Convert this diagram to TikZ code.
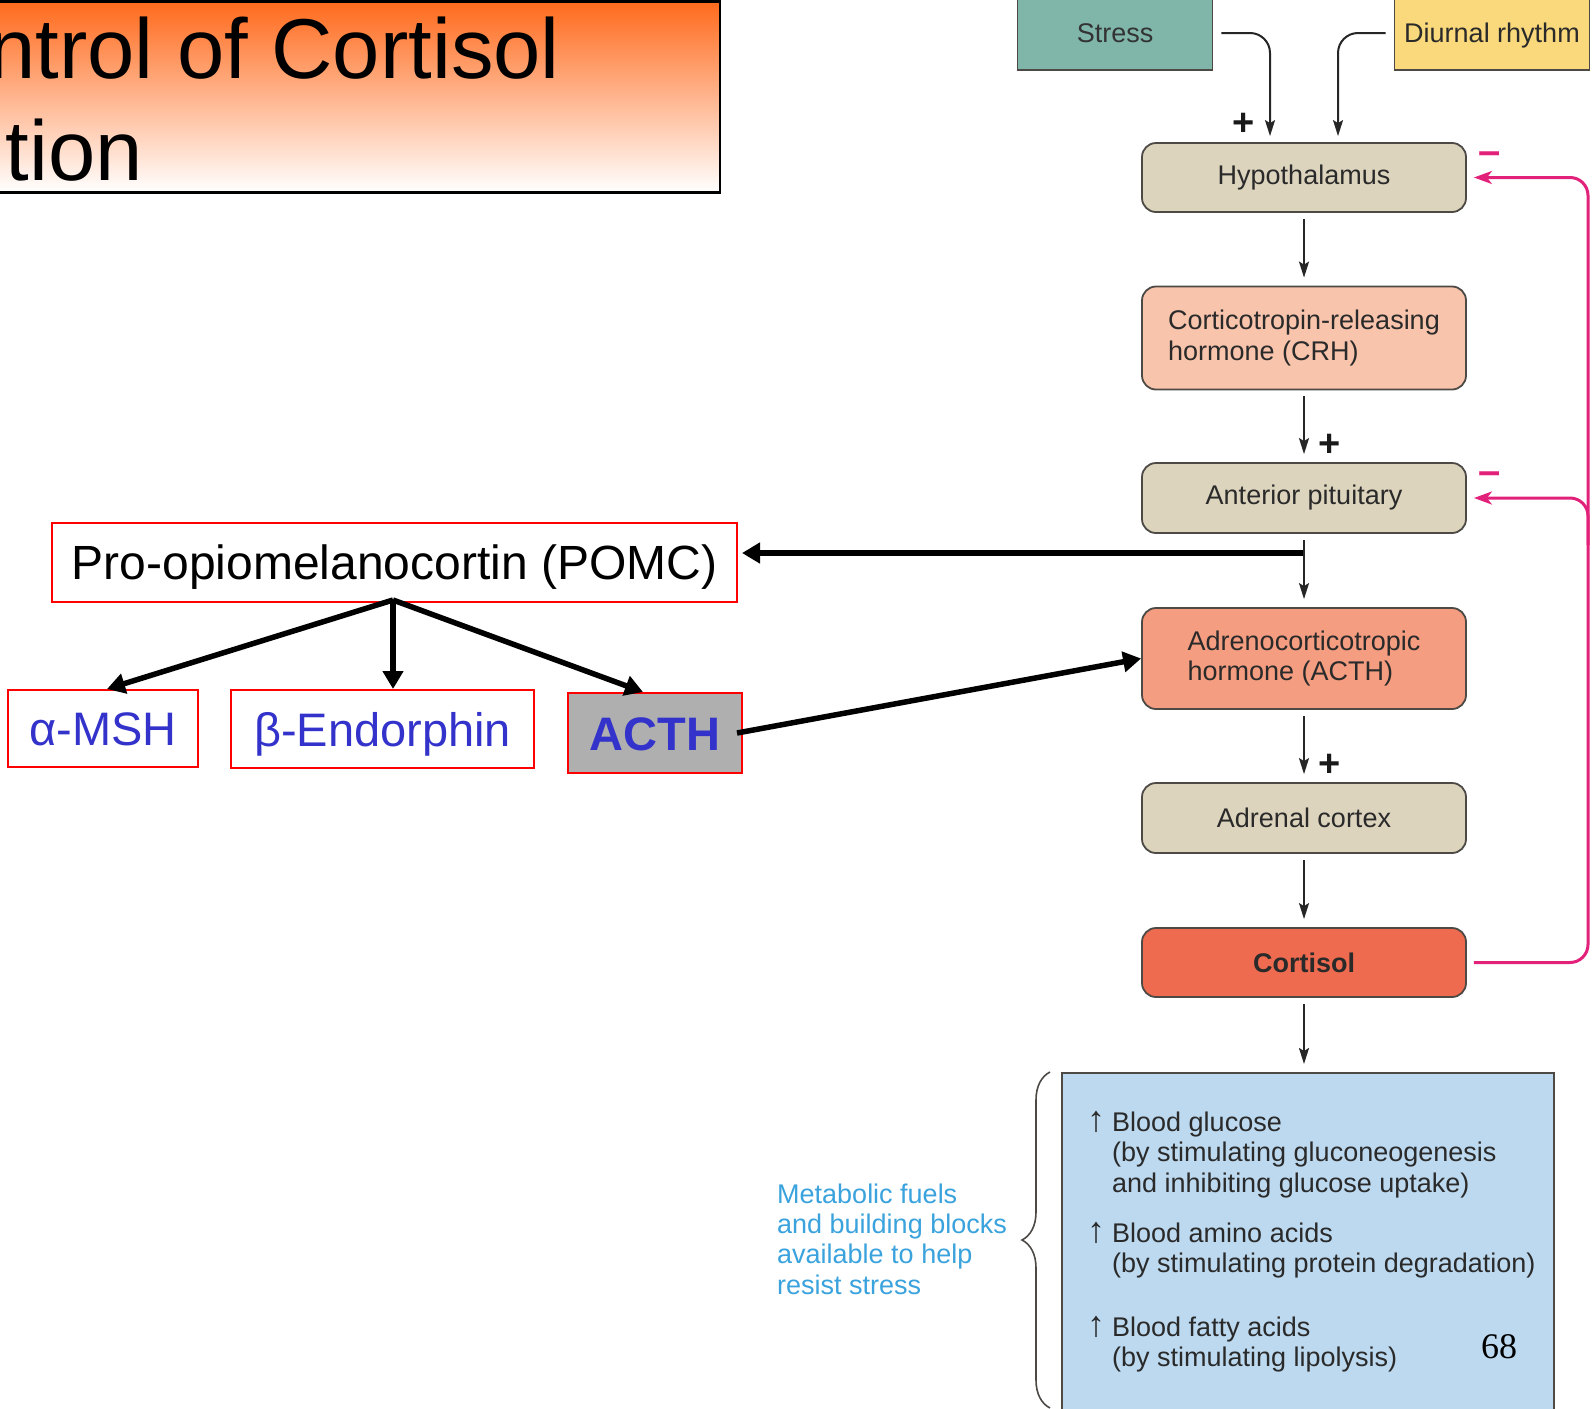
\documentclass[tikz,border=0pt]{standalone}
\usepackage{fontspec}
\setmainfont{Liberation Sans}
\newfontfamily\timesfont{Liberation Serif}
\usetikzlibrary{arrows.meta,decorations.pathreplacing}
\definecolor{stressc}{HTML}{7FB6A9}
\definecolor{diurnc}{HTML}{FAD97C}
\definecolor{tanc}{HTML}{DDD4BD}
\definecolor{crhc}{HTML}{F8C4AC}
\definecolor{acthc}{HTML}{F49D80}
\definecolor{cortc}{HTML}{EE6B4F}
\definecolor{bluebox}{HTML}{BDD9EF}
\definecolor{metac}{HTML}{3AA2DC}
\definecolor{pinkc}{HTML}{E2217A}
\definecolor{edgec}{HTML}{4D4A45}
\definecolor{txtc}{HTML}{2A2A2A}
\definecolor{redc}{HTML}{FF0000}
\definecolor{bluet}{HTML}{3333CC}
\definecolor{grayf}{HTML}{AFAFAF}
\definecolor{orangec}{HTML}{FF6A1C}
\tikzset{
  flow/.style={draw=edgec, line width=1.8pt, rounded corners=14pt, minimum width=324pt,
    inner sep=0pt, text=txtc, font=\fontsize{27}{30.5}\selectfont, align=left},
  src/.style={draw=edgec, line width=1.8pt, minimum width=195pt, minimum height=74pt,
    inner sep=0pt, text=txtc, font=\fontsize{27}{30.5}\selectfont, text height=19pt, text depth=0pt},
  flowarrow/.style={draw=black!85, line width=2pt, -{Stealth[length=16pt,width=10pt,inset=3pt]},
    shorten <=6pt, shorten >=8pt},
  bentarrow/.style={draw=black!85, line width=2pt, rounded corners=20pt,
    -{Stealth[length=16pt,width=10pt,inset=3pt]}},
  plussign/.style={font=\fontsize{38}{38}\selectfont\bfseries, text=black!90, inner sep=0pt},
  minussign/.style={font=\fontsize{40}{40}\selectfont\bfseries, text=pinkc, inner sep=0pt},
  pinkline/.style={draw=pinkc, line width=3pt, rounded corners=18pt,
    -{Stealth[length=18pt,width=13pt,inset=5pt]}},
  redbox/.style={draw=redc, line width=2pt, inner sep=0pt, font=\fontsize{47}{50}\selectfont,
    text height=34pt, text depth=0pt},
  fatarrow/.style={draw=black, line width=5.5pt, -{Triangle[length=18pt,width=20pt]}},
  effecttext/.style={anchor=base west, align=left, inner sep=0pt, text=txtc,
    font=\fontsize{27}{30.5}\selectfont},
  uparrow/.style={anchor=base, inner sep=0pt, text=txtc, font=\fontsize{36}{36}\selectfont},
}
\begin{document}
\begin{tikzpicture}[x=1pt,y=-1pt]
\useasboundingbox (0,0) rectangle (1595,1408);

% title
\node[draw=black, line width=2.5pt, top color=orangec, bottom color=white,
  minimum width=740pt, minimum height=191pt, anchor=north east, inner sep=0pt] (titlebox) at (721,0) {};
\node[anchor=base east, inner sep=0pt, font=\fontsize{85}{90}\selectfont] (title1) at (560,78) {ntrol of Cortisol};
\node[anchor=base east, inner sep=0pt, font=\fontsize{85}{90}\selectfont] (title2) at (143,180) {tion};

% inputs
\node[src, fill=stressc, text=black!80] (stress) at (1115,33) {Stress};
\node[src, fill=diurnc] (diurnal) at (1492,33) {Diurnal rhythm};

% main column
\node[flow, fill=tanc, minimum height=69pt] (hyp) at (1304,177.5) {Hypothalamus};
\node[flow, fill=crhc, minimum height=103pt] (crh) at (1304,338) {Corticotropin-releasing\\hormone (CRH)};
\node[flow, fill=tanc, minimum height=70pt] (ap) at (1304,498) {Anterior pituitary};
\node[flow, fill=acthc, minimum height=101pt] (acthm) at (1304,658.5) {Adrenocorticotropic\\hormone (ACTH)};
\node[flow, fill=tanc, minimum height=70pt] (adr) at (1304,818) {Adrenal cortex};
\node[flow, fill=cortc, minimum height=69pt, font=\fontsize{27}{30.5}\selectfont\bfseries] (cort) at (1304,962.5) {Cortisol};
\node[draw=edgec, line width=1.8pt, fill=bluebox, minimum width=492pt, minimum height=360pt,
  anchor=north west, inner sep=0pt] (effects) at (1061,1072) {};

% input arrows
\coordinate (stin) at ([xshift=-34pt,yshift=6pt]hyp.north);
\coordinate (diin) at ([xshift=34pt,yshift=6pt]hyp.north);
\draw[bentarrow] ([xshift=8pt]stress.east) -| (stin);
\draw[bentarrow] ([xshift=-8pt]diurnal.west) -| (diin);
\node[plussign] (p1) at (1244,124) {+};

% column arrows
\draw[flowarrow] (hyp.south) -- (crh.north);
\draw[flowarrow] (crh.south) -- (ap.north);
\node[plussign] (p2) at (1330,445) {+};
\draw[flowarrow] (ap.south) -- (acthm.north);
\draw[flowarrow] (acthm.south) -- (adr.north);
\node[plussign] (p3) at (1330,765) {+};
\draw[flowarrow] (adr.south) -- (cort.north);
\draw[flowarrow] (cort.south) -- (effects.north -| cort.south);

% feedback
\coordinate (hypin) at ([xshift=7pt]hyp.east);
\coordinate (apin) at ([xshift=7pt]ap.east);
\coordinate (fbx) at (1588,0);
\draw[pinkline] ([xshift=7pt]cort.east) -| (hypin -| fbx) -- (hypin);
\draw[pinkline] (1588,545) |- (apin);
\node[minussign] (m1) at (1490,158) {–};
\node[minussign] (m2) at (1490,478) {–};

% POMC part
\node[redbox, fill=white, minimum width=685pt, minimum height=79pt, font=\fontsize{48}{50}\selectfont] (pomc) at (394.5,562.5) {Pro-opiomelanocortin (POMC)};
\node[redbox, fill=white, text=bluet, minimum width=190pt, minimum height=77pt] (msh) at (103,728.5) {α-MSH};
\node[redbox, fill=white, text=bluet, minimum width=303pt, minimum height=78pt] (bend) at (382.5,729) {β-Endorphin};
\node[redbox, fill=grayf, text=bluet, minimum width=174pt, minimum height=80pt, font=\fontsize{47}{50}\selectfont\bfseries] (acthg) at (655,733) {ACTH};

\coordinate (junc) at (1303,553);
\coordinate (pomctip) at ([xshift=4pt]pomc.east);
\draw[fatarrow] (junc) -- (pomctip |- junc);
\coordinate (apex) at (393,600);
\draw[fatarrow] (apex) -- ([xshift=4pt]msh.north);
\draw[fatarrow] (apex) -- (apex |- bend.north);
\draw[fatarrow] (apex) -- ([xshift=-12pt]acthg.north);
\draw[fatarrow] ([xshift=-6pt]acthg.east) -- (acthm.west);

% effects
\node[uparrow] (u1) at (1096,1131) {↑};
\node[effecttext] (e1) at (1112,1192) {Blood glucose\\(by stimulating gluconeogenesis\\and inhibiting glucose uptake)};
\node[uparrow] (u2) at (1096,1242) {↑};
\node[effecttext] (e2) at (1112,1272.5) {Blood amino acids\\(by stimulating protein degradation)};
\node[uparrow] (u3) at (1096,1336) {↑};
\node[effecttext] (e3) at (1112,1366.5) {Blood fatty acids\\(by stimulating lipolysis)};
\node[font=\timesfont\fontsize{36}{36}\selectfont, inner sep=0pt] (pagenum) at (1499,1347) {68};

\draw[draw=edgec, line width=1.6pt, decorate, decoration={brace, amplitude=28pt}] (1050,1408) -- (1050,1072);
\node[anchor=base west, align=left, inner sep=0pt, text=metac, font=\fontsize{27}{30.3}\selectfont] (meta) at (777,1294)
  {Metabolic fuels\\and building blocks\\available to help\\resist stress};
\end{tikzpicture}
\end{document}
